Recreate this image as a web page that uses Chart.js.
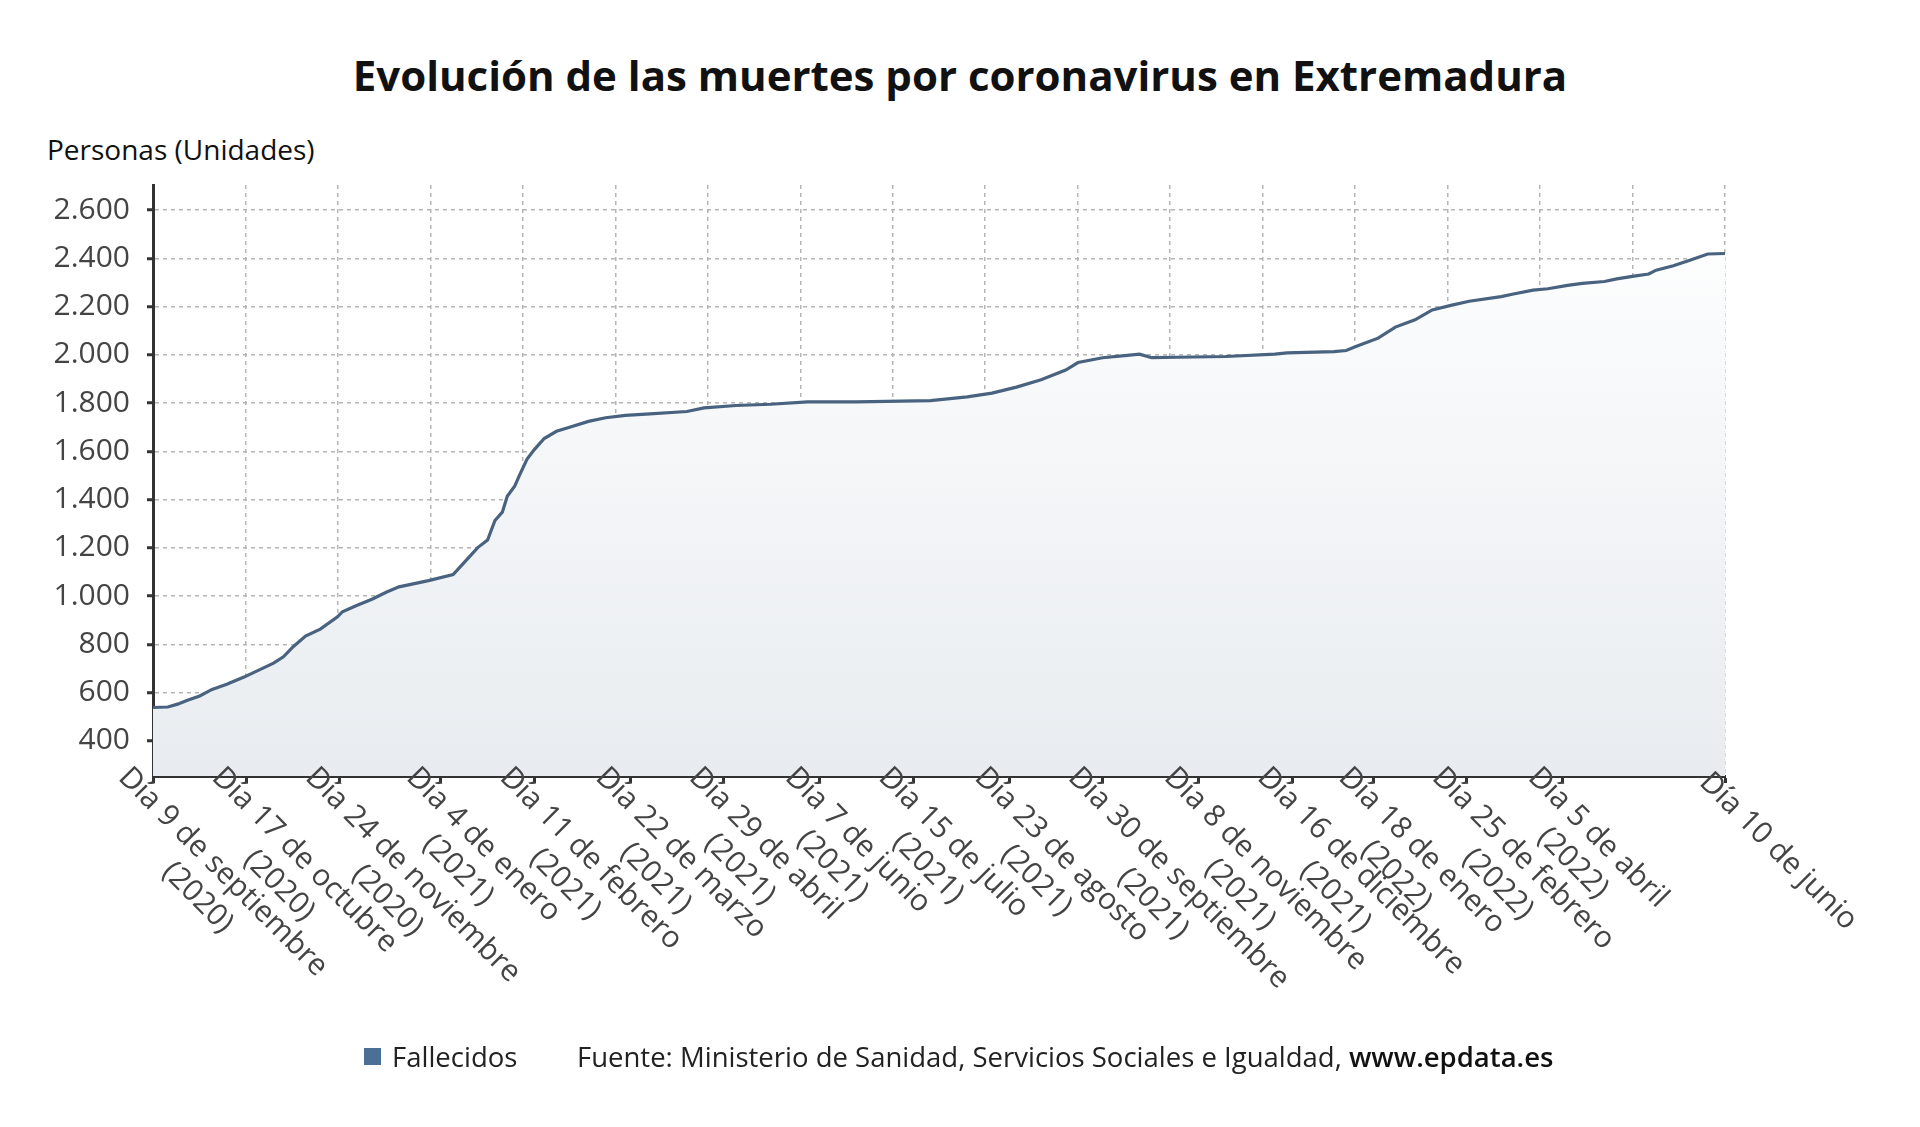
<!DOCTYPE html>
<html>
<head>
<meta charset="utf-8">
<title>Evolución de las muertes por coronavirus en Extremadura</title>
<script src="https://cdn.jsdelivr.net/npm/chart.js"></script>
<style>
  html, body { margin: 0; padding: 0; background: #fff; }
  body { width: 1920px; height: 1127px; position: relative; overflow: hidden; font-family: 'Open Sans', sans-serif; }
  #grafico { position: absolute; left: 0; top: 0; }
  .titulo { position: absolute; left: 0; width: 1920px; top: 54px; text-align: center; font-size: 42px; font-weight: 700; color: #111; line-height: 1; }
  .ytitulo { position: absolute; left: 47px; top: 135px; font-size: 28px; color: #111; line-height: 1; }
  .pie { position: absolute; top: 1043px; font-size: 27.5px; color: #222; line-height: 28px; white-space: nowrap; }
  .pie b { font-weight: 600; color: #111; }
  .cuadro { position: absolute; left: 364px; top: 1048px; width: 17px; height: 17px; background: #4b6f95; }
</style>
</head>
<body>
<div class="titulo">Evolución de las muertes por coronavirus en Extremadura</div>
<div class="ytitulo">Personas (Unidades)</div>
<canvas id="grafico" width="1920" height="1127"></canvas>
<div class="cuadro"></div>
<div class="pie" style="left:392px">Fallecidos</div>
<div class="pie" style="left:577px">Fuente: Ministerio de Sanidad, Servicios Sociales e Igualdad, <b>www.epdata.es</b></div>
<script>
// días desde el 9 de septiembre de 2020
const dias = [0, 6, 10, 14, 19, 24, 30, 37, 43, 49, 53, 57, 62, 68, 75, 77, 83, 89, 95, 100,
  112, 122, 127, 132, 136, 139, 142, 144, 147, 149, 152, 155, 159, 164, 169, 177, 184, 192, 202, 217,
  224, 237, 251, 266, 286, 316, 331, 341, 351, 361, 371, 376, 386, 396, 401, 406, 416, 436, 456, 461,
  480, 485, 490, 498, 505, 513, 520, 528, 535, 548, 553, 561, 567, 575, 581, 590, 595, 602, 608, 611,
  618, 625, 632, 639];
const fallecidos = [538, 540, 552, 568, 586, 613, 634, 664, 693, 722, 748, 790, 834, 863, 914, 935, 962, 987, 1017, 1038,
  1064, 1089, 1145, 1201, 1232, 1313, 1348, 1414, 1455, 1501, 1567, 1607, 1653, 1683, 1699, 1724, 1739, 1749, 1755, 1765,
  1780, 1790, 1795, 1805, 1805, 1810, 1826, 1841, 1866, 1897, 1937, 1968, 1988, 1998, 2003, 1988, 1990, 1993, 2003, 2008,
  2013, 2018, 2039, 2069, 2115, 2145, 2186, 2206, 2222, 2241, 2252, 2268, 2274, 2288, 2296, 2304, 2315, 2326, 2335, 2351,
  2369, 2393, 2418, 2420];

const fechasEtiqueta = ['2020-09-09', '2020-10-17', '2020-11-24', '2021-01-04', '2021-02-11', '2021-03-22',
  '2021-04-29', '2021-06-07', '2021-07-15', '2021-08-23', '2021-09-30', '2021-11-08', '2021-12-16',
  '2022-01-18', '2022-02-25', '2022-04-05', '2022-06-10'];
const textoDia = ['Día 9 de septiembre', 'Día 17 de octubre', 'Día 24 de noviembre', 'Día 4 de enero',
  'Día 11 de febrero', 'Día 22 de marzo', 'Día 29 de abril', 'Día 7 de junio', 'Día 15 de julio',
  'Día 23 de agosto', 'Día 30 de septiembre', 'Día 8 de noviembre', 'Día 16 de diciembre',
  'Día 18 de enero', 'Día 25 de febrero', 'Día 5 de abril', 'Día 10 de junio'];
const textoAnio = ['(2020)', '(2020)', '(2020)', '(2021)', '(2021)', '(2021)', '(2021)', '(2021)', '(2021)',
  '(2021)', '(2021)', '(2021)', '(2021)', '(2022)', '(2022)', '(2022)', ''];
const ticksY = [400, 600, 800, 1000, 1200, 1400, 1600, 1800, 2000, 2200, 2400, 2600];

const DIA0 = Date.UTC(2020, 8, 9);
const diaEtiqueta = fechasEtiqueta.map(f => Math.round((Date.parse(f) - DIA0) / 86400000));
const DIA_FIN = 639;
const N_REJILLA = 17;

const miles = v => String(v).replace(/\B(?=(\d{3})+(?!\d))/g, '.');

// etiquetas del eje x giradas hacia abajo a la derecha
const etiquetasGiradas = {
  id: 'etiquetasGiradas',
  afterDraw(chart) {
    const sx = chart.scales.x;
    const c = chart.ctx;
    c.save();
    c.font = '30px "Open Sans"';
    c.fillStyle = '#444';
    c.textBaseline = 'top';
    c.textAlign = 'center';
    diaEtiqueta.forEach((d, i) => {
      const lineas = textoAnio[i] ? [textoDia[i], textoAnio[i]] : [textoDia[i]];
      const w = Math.max(...lineas.map(l => c.measureText(l).width));
      const px = sx.getPixelForValue(d);
      const dobles = lineas.length > 1;
      c.save();
      c.translate(px - (dobles ? 19 : 10), sx.top - (dobles ? 14 : 9));
      c.rotate(Math.PI / 4);
      lineas.forEach((l, j) => c.fillText(l, w / 2, j * 36));
      c.restore();
    });
    c.restore();
  }
};

const ctx = document.getElementById('grafico').getContext('2d');
new Chart(ctx, {
  type: 'line',
  data: {
    datasets: [{
      label: 'Fallecidos',
      data: dias.map((d, i) => ({ x: d, y: fallecidos[i] })),
      borderColor: '#48627f',
      borderWidth: 3.2,
      pointRadius: 0,
      tension: 0,
      fill: 'start',
      backgroundColor: (c) => {
        const a = c.chart.chartArea;
        if (!a) return 'rgba(0,0,0,0)';
        const g = c.chart.ctx.createLinearGradient(0, a.top, 0, a.bottom);
        g.addColorStop(0, 'rgba(255,255,255,1)');
        g.addColorStop(1, '#e8ecf0');
        return g;
      }
    }]
  },
  options: {
    responsive: false,
    animation: false,
    devicePixelRatio: 1,
    layout: { padding: { left: 0, top: 185, right: 195, bottom: 351 } },
    plugins: { legend: { display: false }, tooltip: { enabled: false } },
    scales: {
      x: {
        type: 'linear',
        min: 0,
        max: DIA_FIN,
        afterBuildTicks: s => { s.ticks = diaEtiqueta.map(v => ({ value: v })); },
        afterFit: s => { s.height = 0; },
        ticks: { display: false },
        grid: { drawOnChartArea: false, drawTicks: true, tickLength: 7, tickColor: '#333', tickWidth: 3, tickBorderDash: [] },
        border: { display: true, color: '#333', width: 3 }
      },
      xg: {
        type: 'linear',
        position: 'bottom',
        min: 0,
        max: DIA_FIN,
        afterBuildTicks: s => {
          s.ticks = Array.from({ length: N_REJILLA + 1 }, (_, i) => ({ value: i * DIA_FIN / N_REJILLA }));
        },
        afterFit: s => { s.height = 0; },
        ticks: { display: false },
        grid: { color: '#b5b5b5', lineWidth: 1.5, drawTicks: false },
        border: { display: false, dash: [4, 4] }
      },
      y: {
        min: 254,
        max: 2704,
        afterBuildTicks: s => { s.ticks = ticksY.map(v => ({ value: v })); },
        afterFit: s => { s.width = 153; },
        ticks: {
          padding: 17,
          color: '#444',
          font: { family: 'Open Sans', size: 30 },
          callback: v => miles(v)
        },
        grid: { color: '#b5b5b5', lineWidth: 1.5, tickLength: 6, tickColor: '#333', tickWidth: 3, tickBorderDash: [] },
        border: { display: true, color: '#333', width: 3, dash: [4, 4] }
      }
    }
  },
  plugins: [etiquetasGiradas]
});
</script>
</body>
</html>
